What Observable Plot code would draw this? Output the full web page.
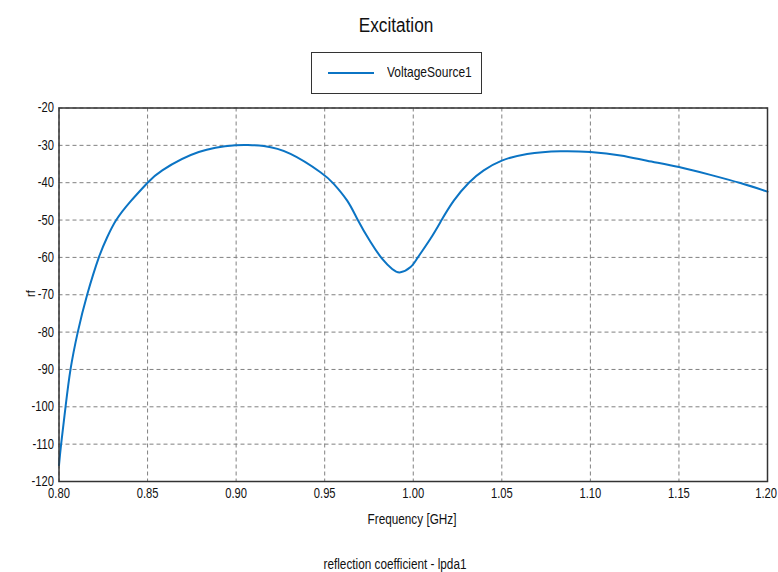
<!DOCTYPE html>
<html>
<head>
<meta charset="utf-8">
<script src="https://cdn.jsdelivr.net/npm/d3@7"></script>
<script src="https://cdn.jsdelivr.net/npm/@observablehq/plot@0.6"></script>
<style>
  html, body { margin: 0; padding: 0; background: #fff; }
  #wrap { position: relative; width: 778px; height: 572px; font-family: "Liberation Sans", Arial, sans-serif; color: #111; }
  .lbl { position: absolute; white-space: nowrap; line-height: 1; transform-origin: center; }
  #legend { position: absolute; left: 311px; top: 52px; width: 171px; height: 42px; border: 1px solid #333; box-sizing: border-box; background: #fff; }
  #legend .swatch { position: absolute; left: 16px; top: 19px; width: 46px; height: 2px; background: #0b74c4; }
  #legend .txt { position: absolute; left: 75px; top: 11px; font-size: 15px; line-height: 1; white-space: nowrap; transform: scaleX(0.8); transform-origin: left center; }
</style>
</head>
<body>
<div id="wrap">
  <div id="chart"></div>
  <div class="lbl" style="left:395.5px;top:15px;font-size:20px;transform:translateX(-50%) scaleX(0.86);">Excitation</div>
  <div id="legend"><div class="swatch"></div><div class="txt">VoltageSource1</div></div>
  <div class="lbl" style="left:411.5px;top:512px;font-size:14px;transform:translateX(-50%) scaleX(0.84);">Frequency [GHz]</div>
  <div class="lbl" style="left:395px;top:557px;font-size:14px;transform:translateX(-50%) scaleX(0.84);">reflection coefficient - lpda1</div>
  <div class="lbl" style="left:27px;top:287px;font-size:13px;transform:rotate(-90deg) scaleX(0.85);">rf</div>
</div>
<script>
const freq = [0.800, 0.8012, 0.8037, 0.8065, 0.8106, 0.8159, 0.8225, 0.8272, 0.8323, 0.8404, 0.850, 0.8583,
  0.8789, 0.8996, 0.906, 0.9156, 0.9307, 0.9476, 0.9551, 0.9627, 0.9684, 0.9759, 0.9825, 0.9881, 0.9928, 0.9985,
  1.0026, 1.0097, 1.0160, 1.0229, 1.0314, 1.0398, 1.050, 1.0643, 1.0831, 1.100, 1.117, 1.132, 1.150,
  1.1678, 1.1847, 1.200];
const rf = [-115.6, -110.0, -100.0, -90.0, -80.0, -70.0, -60.0, -54.6, -50.0, -45.0, -40.0, -36.7,
  -31.8, -30.0, -29.9, -30.2, -32.3, -37.2, -40.3, -44.8, -49.7, -55.9, -60.4, -63.1, -64.0, -62.6,
  -60.0, -55.0, -50.0, -44.8, -40.0, -36.7, -34.1, -32.3, -31.6, -31.8, -32.7, -34.1, -35.8,
  -37.9, -40.1, -42.4];
const xTicks = [0.80, 0.85, 0.90, 0.95, 1.00, 1.05, 1.10, 1.15, 1.20];
const yTicks = [-20, -30, -40, -50, -60, -70, -80, -90, -100, -110, -120];

const data = freq.map((f, i) => ({f, v: rf[i]}));

const chart = Plot.plot({
  width: 778,
  height: 572,
  marginLeft: 58.5,
  marginRight: 11,
  marginTop: 107.5,
  marginBottom: 91,
  style: {fontSize: "14px", color: "#111", background: "transparent", fontFamily: "'Liberation Sans', Arial, sans-serif"},
  x: {domain: [0.8, 1.2]},
  y: {domain: [-120, -20]},
  marks: [
    Plot.gridX(xTicks, {stroke: "#808080", strokeOpacity: 1, strokeDasharray: "4,3"}),
    Plot.gridY(yTicks, {stroke: "#808080", strokeOpacity: 1, strokeDasharray: "4,3"}),
    Plot.axisX(xTicks, {tickSize: 0, tickPadding: 7, tickFormat: d => d.toFixed(2), label: null, fontSize: 14}),
    Plot.axisY(yTicks, {tickSize: 0, tickPadding: 5, tickFormat: d => String(d), label: null, fontSize: 14}),
    Plot.line(data, {x: "f", y: "v", stroke: "#0b74c4", strokeWidth: 2, curve: "natural"}),
    Plot.frame({stroke: "#333", strokeWidth: 1.5})
  ]
});
document.getElementById("chart").appendChild(chart);
// condense tick labels horizontally to match the narrow look of the reference
const tickTexts = chart.querySelectorAll('g[aria-label="x-axis tick label"] text, g[aria-label="y-axis tick label"] text');
tickTexts.forEach(t => {
  const w = t.getComputedTextLength();
  t.setAttribute("textLength", (w * 0.8).toFixed(2));
  t.setAttribute("lengthAdjust", "spacingAndGlyphs");
});
const xt = chart.querySelectorAll('g[aria-label="x-axis tick label"] text');
if (xt.length) {
  const last = xt[xt.length - 1];
  last.setAttribute("text-anchor", "end");
  last.setAttribute("dx", "9.5");
}
</script>
</body>
</html>
